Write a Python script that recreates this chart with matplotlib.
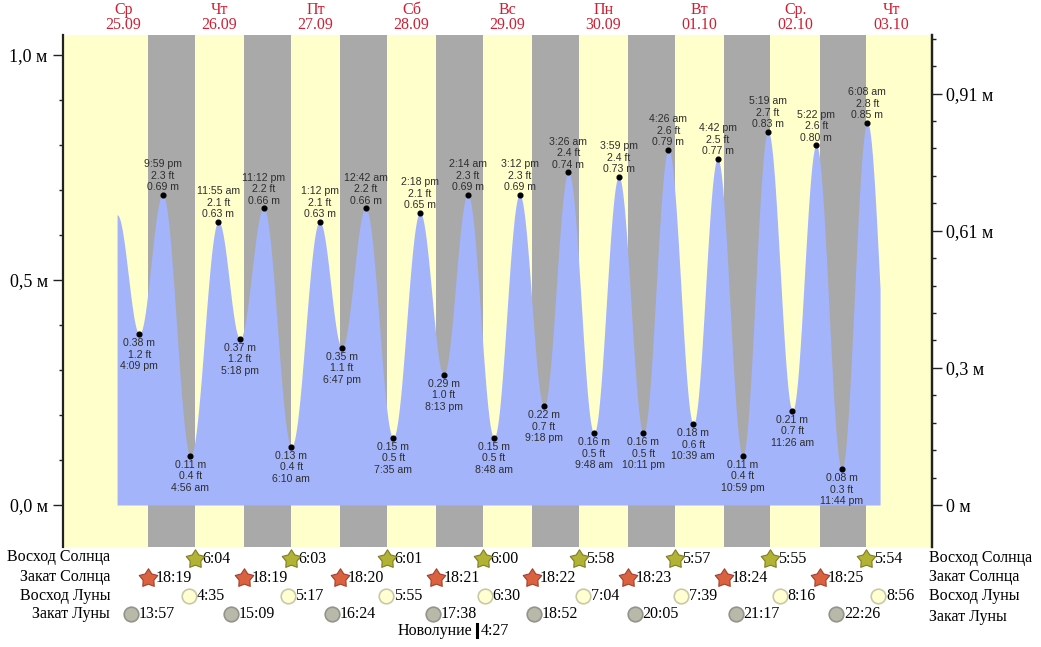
import numpy as np
import matplotlib
matplotlib.use('Agg')
import matplotlib.pyplot as plt
from matplotlib.transforms import blended_transform_factory
from matplotlib.path import Path

# ---------------- data ----------------
dates = ['25.09', '26.09', '27.09', '28.09', '29.09', '30.09', '01.10', '02.10', '03.10']
weekdays = ['Ср', 'Чт', 'Пт', 'Сб', 'Вс', 'Пн', 'Вт', 'Ср.', 'Чт']

tide_day = [0, 0, 1, 1, 1, 1, 2, 2, 2, 3, 3, 3, 3, 4, 4, 4, 4, 5, 5, 5, 5, 6, 6, 6, 6, 7, 7, 7, 7, 8]
tide_time = ['4:09 pm', '9:59 pm',
             '4:56 am', '11:55 am', '5:18 pm', '11:12 pm',
             '6:10 am', '1:12 pm', '6:47 pm',
             '12:42 am', '7:35 am', '2:18 pm', '8:13 pm',
             '2:14 am', '8:48 am', '3:12 pm', '9:18 pm',
             '3:26 am', '9:48 am', '3:59 pm', '10:11 pm',
             '4:26 am', '10:39 am', '4:42 pm', '10:59 pm',
             '5:19 am', '11:26 am', '5:22 pm', '11:44 pm',
             '6:08 am']
tide_m = [0.38, 0.69,
          0.11, 0.63, 0.37, 0.66,
          0.13, 0.63, 0.35,
          0.66, 0.15, 0.65, 0.29,
          0.69, 0.15, 0.69, 0.22,
          0.74, 0.16, 0.73, 0.16,
          0.79, 0.18, 0.77, 0.11,
          0.83, 0.21, 0.80, 0.08,
          0.85]
tide_ft = ['1.2', '2.3',
           '0.4', '2.1', '1.2', '2.2',
           '0.4', '2.1', '1.1',
           '2.2', '0.5', '2.1', '1.0',
           '2.3', '0.5', '2.3', '0.7',
           '2.4', '0.5', '2.4', '0.5',
           '2.6', '0.6', '2.5', '0.4',
           '2.7', '0.7', '2.6', '0.3',
           '2.8']

# unlabeled curve ends (estimated): first high, next (off-chart) low, end of curve
curve_start = (0, '10:35 am', 0.645)
curve_next_low = (8, '12:15 pm', 0.16)
curve_end = (8, '9:20 am')

sunrise_day = [1, 2, 3, 4, 5, 6, 7, 8]
sunrise = ['6:04', '6:03', '6:01', '6:00', '5:58', '5:57', '5:55', '5:54']
sunset_day = [0, 1, 2, 3, 4, 5, 6, 7]
sunset = ['18:19', '18:19', '18:20', '18:21', '18:22', '18:23', '18:24', '18:25']
moonrise_day = [1, 2, 3, 4, 5, 6, 7, 8]
moonrise = ['4:35', '5:17', '5:55', '6:30', '7:04', '7:39', '8:16', '8:56']
moonset_day = [0, 1, 2, 3, 4, 5, 6, 7]
moonset = ['13:57', '15:09', '16:24', '17:38', '18:52', '20:05', '21:17', '22:26']
newmoon_day, newmoon = 4, '4:27'

left_ticks = [0.0, 0.5, 1.0]
left_labels = ['0,0 м', '0,5 м', '1,0 м']
right_ticks_ft = [0, 1, 2, 3]
right_labels = ['0 м', '0,3 м', '0,61 м', '0,91 м']
row_names = ['Восход Солнца', 'Закат Солнца', 'Восход Луны', 'Закат Луны']

# ---------------- helpers ----------------
def h12(d, s):
    hm, ap = s.split()
    h, m = map(int, hm.split(':'))
    if ap == 'pm' and h != 12:
        h += 12
    if ap == 'am' and h == 12:
        h = 0
    return d * 24 + h + m / 60.0

def h24(d, s):
    h, m = map(int, s.split(':'))
    return d * 24 + h + m / 60.0

W, H = 1041, 647
YELLOW = '#FFFFCC'
GRAY = '#A9A9A9'
BLUE = '#A3B4FA'
RED = '#D01E32'
SERIF = 'Liberation Serif'
SANS = 'Liberation Sans'

fig = plt.figure(figsize=(W / 100, H / 100), dpi=100)
ax = fig.add_axes([63 / W, 1 - 547 / H, (932 - 63) / W, 512 / H])
x0_px, px_per_h = 74.73, 4.0
ax.set_xlim((63 - x0_px) / px_per_h, (932 - x0_px) / px_per_h)
ylo, yhi = -(547 - 505) / 450, (505 - 35) / 450
ax.set_ylim(ylo, yhi)
ax.set_facecolor(YELLOW)

# nights
for d1, s1, d2, s2 in zip(sunset_day, sunset, sunrise_day, sunrise):
    ax.axvspan(h24(d1, s1), h24(d2, s2), color=GRAY, lw=0, zorder=1)

# tide curve (cosine interpolation between extrema)
tt = [h12(curve_start[0], curve_start[1])] + [h12(d, s) for d, s in zip(tide_day, tide_time)] + \
     [h12(curve_next_low[0], curve_next_low[1])]
vv = [curve_start[2]] + tide_m + [curve_next_low[2]]
tt = np.array(tt)
vv = np.array(vv)
t_end = h12(curve_end[0], curve_end[1])
ts = np.linspace(tt[0], t_end, 4000)
idx = np.clip(np.searchsorted(tt, ts, side='right') - 1, 0, len(tt) - 2)
f = (ts - tt[idx]) / (tt[idx + 1] - tt[idx])
hs = vv[idx + 1] + (vv[idx] - vv[idx + 1]) * (1 + np.cos(np.pi * f)) / 2
ax.fill_between(ts, 0, hs, color=BLUE, lw=0, zorder=2)

# extrema dots and labels
ext_t = tt[1:-1]
ax.plot(ext_t, tide_m, 'o', ms=3.4, color='black', zorder=4)
LBL = dict(fontsize=7.6, family=SANS, color='#2E2E2E', linespacing=1.2, zorder=5, ha='center')
for i, (t, m, ft, tm) in enumerate(zip(ext_t, tide_m, tide_ft, tide_time)):
    is_high = m > vv[i] and m > vv[i + 2]
    if is_high:
        txt = f"{tm}\n{ft} ft\n{m:.2f} m"
        ax.annotate(txt, (t, m), xytext=(0, 1.5), textcoords='offset points', va='bottom', **LBL)
    else:
        txt = f"{m:.2f} m\n{ft} ft\n{tm}"
        ax.annotate(txt, (t, m), xytext=(0, -3.0), textcoords='offset points', va='top', **LBL)

# axes styling
ax.set_xticks([])
for sp in ['top', 'bottom']:
    ax.spines[sp].set_visible(False)
for sp in ['left', 'right']:
    ax.spines[sp].set_color('#222222')
    ax.spines[sp].set_linewidth(1.6)
ax.set_yticks(left_ticks)
ax.set_yticklabels(left_labels, family=SERIF, fontsize=13)
ax.set_yticks(np.arange(0, 1.05, 0.1), minor=True)
ax.tick_params(axis='y', which='major', length=7, width=1, pad=4, colors='#222222', labelcolor='black')
ax.tick_params(axis='y', which='minor', length=3, width=1, colors='#222222')

ax2 = ax.twinx()
ax2.set_ylim(ylo, yhi)
ax2.set_xticks([])
for sp in ['top', 'bottom', 'left']:
    ax2.spines[sp].set_visible(False)
ax2.spines['right'].set_color('#222222')
ax2.spines['right'].set_linewidth(1.6)
ax2.set_yticks([v * 0.3048 for v in right_ticks_ft])
ax2.set_yticklabels(right_labels, family=SERIF, fontsize=13)
ax2.set_yticks(np.arange(0, 3.45, 0.2) * 0.3048, minor=True)
ax2.tick_params(axis='y', which='major', length=7, width=1, pad=3, colors='#222222', labelcolor='black')
ax2.tick_params(axis='y', which='minor', length=3, width=1, colors='#222222')

# day labels at top
btr = blended_transform_factory(ax.transData, fig.transFigure)
for d, (wd, dt) in enumerate(zip(weekdays, dates)):
    ax.text(d * 24 + 12.2, 1 - 10 / H, wd, transform=btr, ha='center', va='center',
            family=SERIF, fontsize=11.5, color=RED, clip_on=False)
    ax.text(d * 24 + 12.2, 1 - 25 / H, dt, transform=btr, ha='center', va='center',
            family=SERIF, fontsize=11.5, color=RED, clip_on=False)

# bottom rows
def star_path(inner=0.58):
    verts = []
    for k in range(10):
        r = 1.0 if k % 2 == 0 else inner
        a = np.pi / 2 + k * np.pi / 5
        verts.append((r * np.cos(a), r * np.sin(a)))
    verts.append(verts[0])
    codes = [Path.MOVETO] + [Path.LINETO] * 9 + [Path.CLOSEPOLY]
    return Path(verts, codes)

STAR = star_path()
rows_y = [559, 578, 596, 614]
row_specs = [
    (sunrise_day, sunrise, dict(marker=STAR, ms=14, mfc='#B2B234', mec='#7E7E22', mew=0.8)),
    (sunset_day, sunset, dict(marker=STAR, ms=14, mfc='#DA6240', mec='#A0402A', mew=0.8)),
    (moonrise_day, moonrise, dict(marker='o', ms=10.5, mfc='#FFFFD2', mec='#C9C9A6', mew=1.2)),
    (moonset_day, moonset, dict(marker='o', ms=10.5, mfc='#B9B9AA', mec='#93938A', mew=1.2)),
]
for (days_, times_, style), ypx in zip(row_specs, rows_y):
    yf = 1 - ypx / H
    for d, s in zip(days_, times_):
        t = h24(d, s)
        ax.plot([t], [yf], transform=btr, clip_on=False, ls='none', zorder=6, **style)
        ax.annotate(s, (t, yf), xycoords=btr, xytext=(5.5, 0), textcoords='offset points',
                    ha='left', va='center', family=SERIF, fontsize=11.5, color='black',
                    annotation_clip=False)

left_row_y = [557, 577, 596, 614]
right_row_y = [558, 577, 596, 617]
for name, yl, yr in zip(row_names, left_row_y, right_row_y):
    fig.text(110 / W, 1 - yl / H, name, ha='right', va='center', family=SERIF, fontsize=11.5)
    fig.text(929 / W, 1 - yr / H, name, ha='left', va='center', family=SERIF, fontsize=11.5)

# new moon
tn = h24(newmoon_day, newmoon)
ynm = 1 - 631 / H
ax.annotate('Новолуние', (tn, ynm), xycoords=btr, xytext=(-3, 0), textcoords='offset points',
            ha='right', va='center', family=SERIF, fontsize=11.5, annotation_clip=False)
ax.plot([tn, tn], [1 - 624 / H, 1 - 637 / H], transform=btr, clip_on=False, color='black', lw=2.2)
ax.annotate(newmoon, (tn, ynm), xycoords=btr, xytext=(3, 0), textcoords='offset points',
            ha='left', va='center', family=SERIF, fontsize=11.5, annotation_clip=False)

fig.savefig('out.png', dpi=100, facecolor='white')
